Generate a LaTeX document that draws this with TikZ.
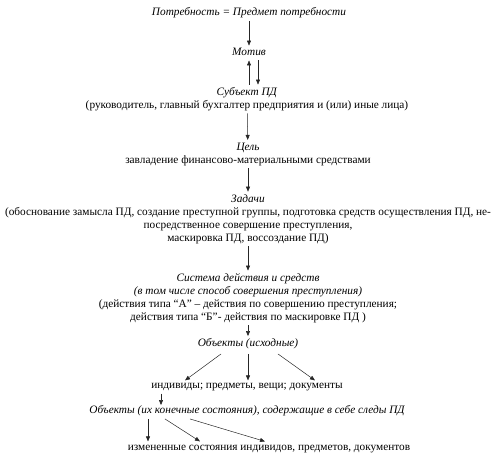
\documentclass[tikz,border=0pt]{standalone}
\usepackage{fontspec}
\setmainfont{Liberation Serif}
\usetikzlibrary{arrows.meta, positioning, calc}
\tikzset{
  txt/.style  = {inner sep=2.5pt, align=center, font=\fontsize{11.3}{13}\selectfont},
  head/.style = {txt, font=\fontsize{11.3}{13}\selectfont\itshape},
  arr/.style  = {-{Triangle[length=5pt, width=4pt]}, line width=0.5pt, black!85},
}

\begin{document}
\begin{tikzpicture}[x=1pt, y=-1pt]
  \useasboundingbox (0,0) rectangle (495,456);
  \node[head] (need) at (249,13) {Потребность = Предмет потребности};
  \node[head] (motive) at (249,52) {Мотив};
  \node[txt] (subj) at (247,99) {\textit{Субъект ПД}\\
    (руководитель, главный бухгалтер предприятия и (или) иные лица)};
  \node[txt] (goal) at (248,154) {\textit{Цель}\\
    завладение финансово-материальными средствами};
  \node[txt] (tasks) at (248,219) {\textit{Задачи}\\
    (обоснование замысла ПД, создание преступной группы, подготовка средств осуществления ПД, не-\\
    посредственное совершение преступления,\\
    маскировка ПД, воссоздание ПД)};
  \node[txt] (sys) at (248,298) {\textit{Система действия и средств}\\
    \textit{(в том числе способ совершения преступления)}\\
    (действия типа “А” – действия по совершению преступления;\\
    действия типа “Б”- действия по маскировке ПД )};
  \node[head] (obj1) at (248,344) {Объекты (исходные)};
  \node[txt] (things) at (247,387) {индивиды; предметы, вещи; документы};
  \node[head] (obj2) at (247,411) {Объекты (их конечные состояния), содержащие в себе следы ПД};
  \node[txt] (changed) at (269,449) {измененные состояния индивидов, предметов, документов};

  \draw[arr] (need) -- (motive);
  \draw[arr] ($(subj.north)+(2,0)$) -- ($(motive.south)+(0,2)$);
  \draw[arr] ($(motive.south)+(9,2)$) -- ($(subj.north)+(11,0)$);
  \draw[arr] (subj) -- (goal);
  \draw[arr] (goal) -- (tasks);
  \draw[arr] (tasks) -- (sys);
  \draw[arr] (sys) -- (obj1);
  \draw[arr] ($(obj1.south)+(-27,2)$) -- ($(things.north)+(-62,0)$);
  \draw[arr] ($(obj1.south)+(0,2)$) -- ($(things.north)+(1,0)$);
  \draw[arr] ($(obj1.south)+(30,2)$) -- ($(things.north)+(68,0)$);
  \draw[arr] ($(things.south)+(-86,0)$) -- ($(obj2.north)+(-86,2)$);
  \draw[arr] ($(obj2.south)+(-99,0)$) -- ($(changed.north)+(-121,-1)$);
  \draw[arr] ($(obj2.south)+(-82,0)$) -- ($(changed.north)+(-69,-1)$);
  \draw[arr] ($(obj2.south)+(-57,0)$) -- ($(changed.north)+(-4,-1)$);
\end{tikzpicture}
\end{document}
